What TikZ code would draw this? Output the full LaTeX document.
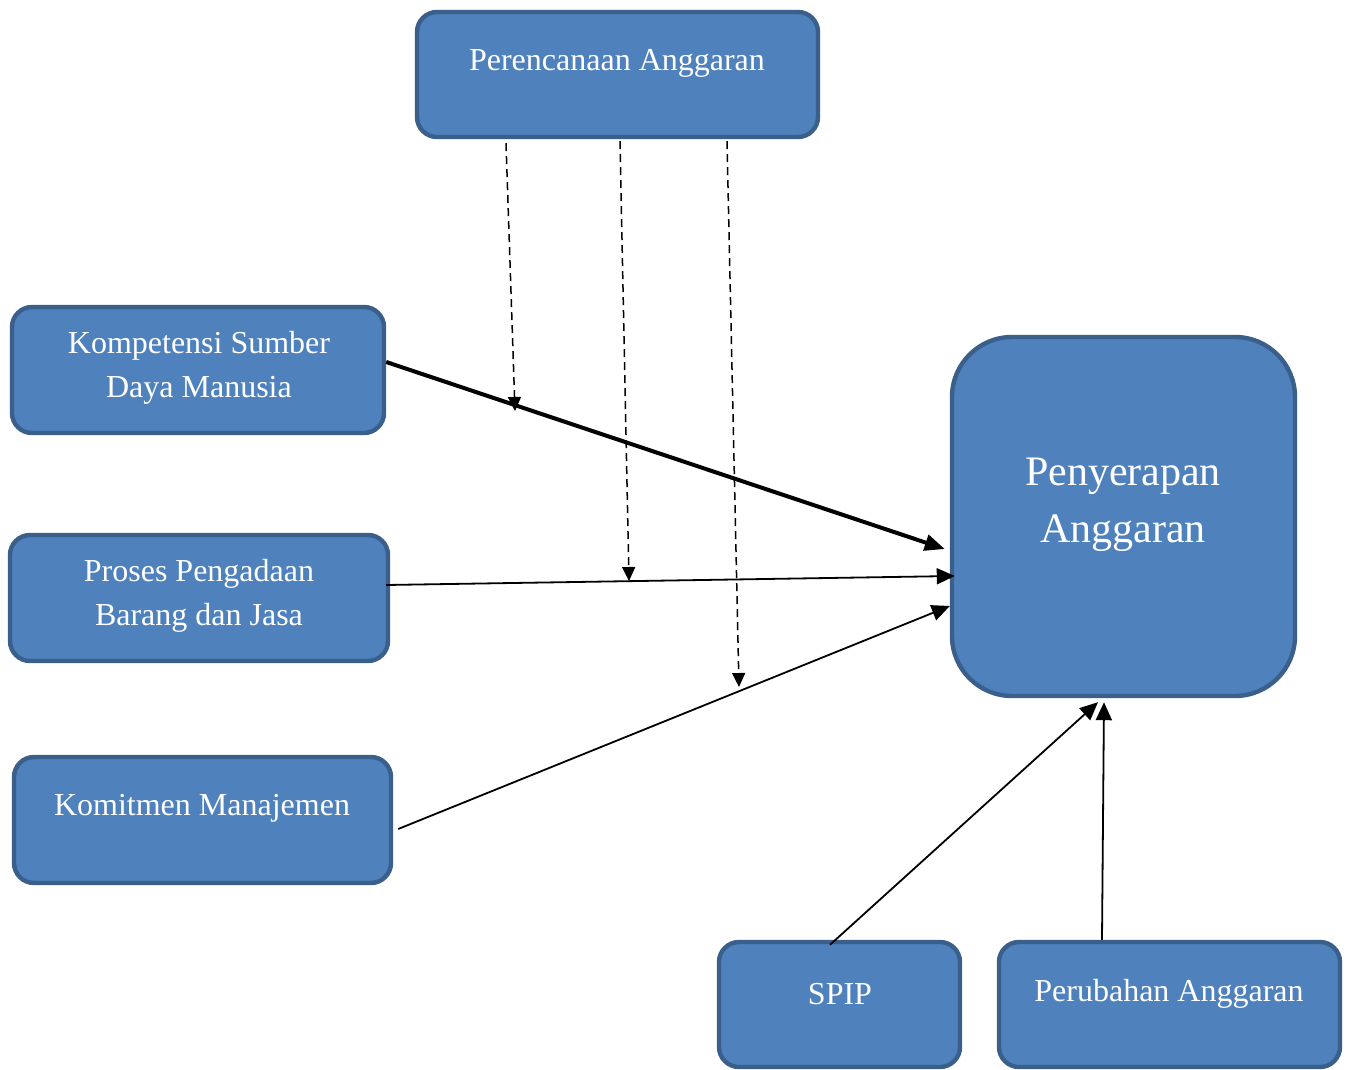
\documentclass[tikz,border=0pt]{standalone}
\usepackage{fontspec}
\setmainfont{Liberation Serif}
\usetikzlibrary{arrows.meta,calc,fit}
\definecolor{boxfill}{HTML}{4F81BD}
\definecolor{boxline}{HTML}{3A5F8B}
\begin{document}
\begin{tikzpicture}[x=0.5pt,y=-0.5pt,
  box/.style={draw=boxline, line width=2.2pt, fill=boxfill, rounded corners=10pt, inner sep=0pt},
  bigbox/.style={box, rounded corners=30pt},
  lbl/.style={text=white, font=\fontsize{16}{22}\selectfont, align=center, inner sep=0pt},
  biglbl/.style={text=white, font=\fontsize{21}{28.5}\selectfont, align=center, inner sep=0pt},
  thickarrow/.style={line width=2pt, -{Triangle[length=10pt,width=8pt]}},
  thinarrow/.style={line width=0.9pt, -{Triangle[length=9pt,width=8pt]}},
  dasharrow/.style={line width=0.75pt, dash pattern=on 4pt off 2.5pt, -{Triangle[length=7pt,width=6.5pt]}}]
\useasboundingbox (0,0) rectangle (1351,1070);
% boxes
\node[box, fit={(417,12) (818,137)}] (plan) {};
\node[box, fit={(12,307) (384,433)}] (ksdm) {};
\node[box, fit={(10,535) (388,661)}] (pbj) {};
\node[box, fit={(14,757) (391,883)}] (km) {};
\node[bigbox, fit={(952,337) (1295,696)}] (py) {};
\node[box, fit={(719,942) (960,1067)}] (spip) {};
\node[box, fit={(999,942) (1340,1067)}] (pa) {};
% labels
\node[lbl] (planT) at (617,63) {Perencanaan Anggaran};
\node[lbl] (ksdmT) at (199,368) {Kompetensi Sumber\\Daya Manusia};
\node[lbl] (pbjT) at (199,596) {Proses Pengadaan\\Barang dan Jasa};
\node[lbl] (kmT) at (202,808) {Komitmen Manajemen};
\node[biglbl] (pyT) at (1123,505) {Penyerapan\\Anggaran};
\node[lbl] (spipT) at (840,994) {SPIP};
\node[lbl] (paT) at (1169,994) {Perubahan Anggaran};
% free ends of dashed arrows
\coordinate (d1) at (515,411);
\coordinate (d2) at (629,581);
\coordinate (d3) at (739,687);
% connectors
\draw[thickarrow] ($(ksdm.east)+(0,-8)$) -- ($(py.west)+(-5,32.5)$);
\draw[thinarrow] ($(pbj.east)+(-4,-13)$) -- ($(py.west)+(5,59.5)$);
\draw[thinarrow] ($(km.east)+(5,9)$) -- ($(py.west)+(0,89.5)$);
\draw[thinarrow] ($(spip.north)+(-9.5,5)$) -- ($(py.south)+(-25.5,4)$);
\draw[thinarrow] ($(pa.north)+(-67.5,0)$) -- ($(py.south)+(-19.5,4)$);
\draw[dasharrow] ($(plan.south)+(-111.5,4)$) -- (d1);
\draw[dasharrow] ($(plan.south)+(2.5,2)$) -- (d2);
\draw[dasharrow] ($(plan.south)+(109.5,2)$) -- (d3);
\end{tikzpicture}
\end{document}
